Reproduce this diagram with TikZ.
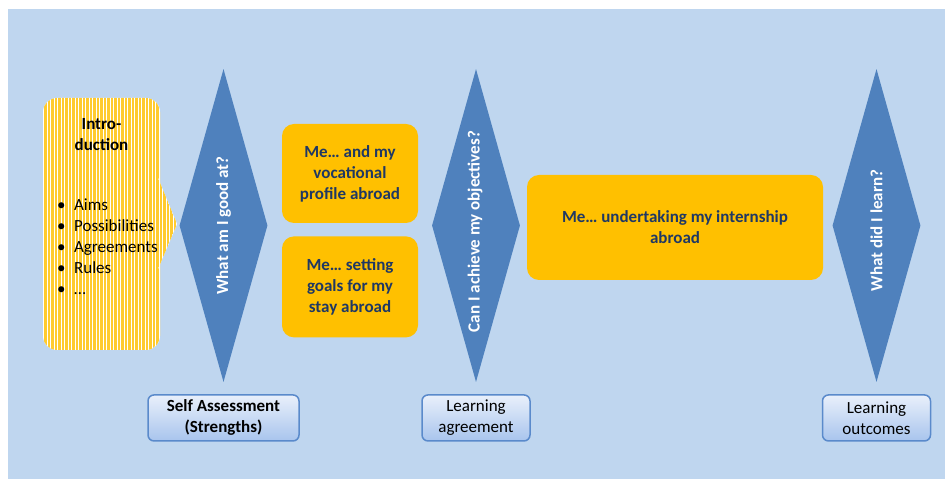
\documentclass[tikz,border=0pt]{standalone}
\usepackage{fontspec}
\setmainfont{Carlito}
\usetikzlibrary{shapes.geometric,positioning,patterns.meta}

\definecolor{bgblue}{HTML}{BFD6EF}
\definecolor{askblue}{HTML}{4F81BD}
\definecolor{meorange}{HTML}{FFC000}
\definecolor{menavy}{HTML}{1F3864}
\definecolor{introyellow}{HTML}{FFCB2E}
\definecolor{restop}{HTML}{E9F0FB}
\definecolor{resbottom}{HTML}{A8C4ED}
\definecolor{resborder}{HTML}{5A8ACB}

\newcommand{\diagfont}{\fontsize{17}{21}\selectfont}

\tikzset{
  ask/.style={diamond, fill=askblue, inner sep=0pt, minimum width=88pt, minimum height=313pt},
  asktext/.style={rotate=90, text=white, font=\diagfont\bfseries},
  me/.style={rounded corners=12pt, fill=meorange, text=menavy, font=\diagfont\bfseries, align=center, inner sep=0pt},
  result/.style={rounded corners=6pt, draw=resborder, line width=1.5pt, top color=restop, bottom color=resbottom,
    align=center, font=\diagfont, minimum height=46pt, inner sep=0pt},
  intro/.style={preaction={fill=white}, pattern={Lines[angle=90,distance=3.5pt,line width=2.1pt]}, pattern color=introyellow}
}

\begin{document}
\begin{tikzpicture}[x=1pt, y=1pt, node distance=12pt]

  \useasboundingbox (0,0) rectangle (945,479);
  \fill[bgblue] (8,0) rectangle (945,470);

  % introduction
  \node[intro, rounded corners=14pt, minimum width=117pt, minimum height=252pt, inner sep=0pt] (intro) at (101.5,255) {};
  \fill[intro] ([xshift=-3pt,yshift=46pt]intro.east) -- ([xshift=16pt]intro.east) -- ([xshift=-3pt,yshift=-45pt]intro.east) -- cycle;
    \node[font=\diagfont\bfseries, align=center, inner sep=0pt, below=21pt of intro.north] (intro_title) {Intro-\\duction};
    \node[font=\diagfont, align=left, inner sep=0pt, anchor=north west] (intro_list) at ([xshift=15pt,yshift=-102pt]intro.north west)
      {\makebox[17pt][l]{\textbullet}Aims\\
       \makebox[17pt][l]{\textbullet}Possibilities\\
       \makebox[17pt][l]{\textbullet}Agreements\\
       \makebox[17pt][l]{\textbullet}Rules\\
       \makebox[17pt][l]{\textbullet}…};

  % questions
  \node[ask] (q_good) at (223.5,253.5) {};
    \node[asktext] (q_good_txt) at (q_good) {What am I good at?};
    \node[result, font=\diagfont\bfseries, minimum width=151pt] (l_self) [below=of q_good] {Self Assessment\\(Strengths)};

  \node[ask] (q_obj) at (476,253.5) {};
    \node[asktext] (q_obj_txt) at ([xshift=-1pt,yshift=-6pt]q_obj) {Can I achieve my objectives?};
    \node[result, minimum width=108pt] (l_agree) [below=of q_obj] {Learning\\agreement};

  \node[ask] (q_learn) at (876.5,253.5) {};
    \node[asktext] (q_learn_txt) at ([yshift=-5pt]q_learn) {What did I learn?};
    \node[result, minimum width=108pt] (l_out) [below=of q_learn] {Learning\\outcomes};

  % me ...
  \node[me, minimum width=136pt, minimum height=99pt] (m_prof) at (350,305.5) {Me… and my\\vocational\\profile abroad};
  \node[me, minimum width=136pt, minimum height=101pt] (m_goal) [below=13pt of m_prof] {Me… setting\\goals for my\\stay abroad};
  \node[me, minimum width=296pt, minimum height=105pt] (m_intern) at (675,251.5) {Me… undertaking my internship\\abroad};

\end{tikzpicture}
\end{document}
